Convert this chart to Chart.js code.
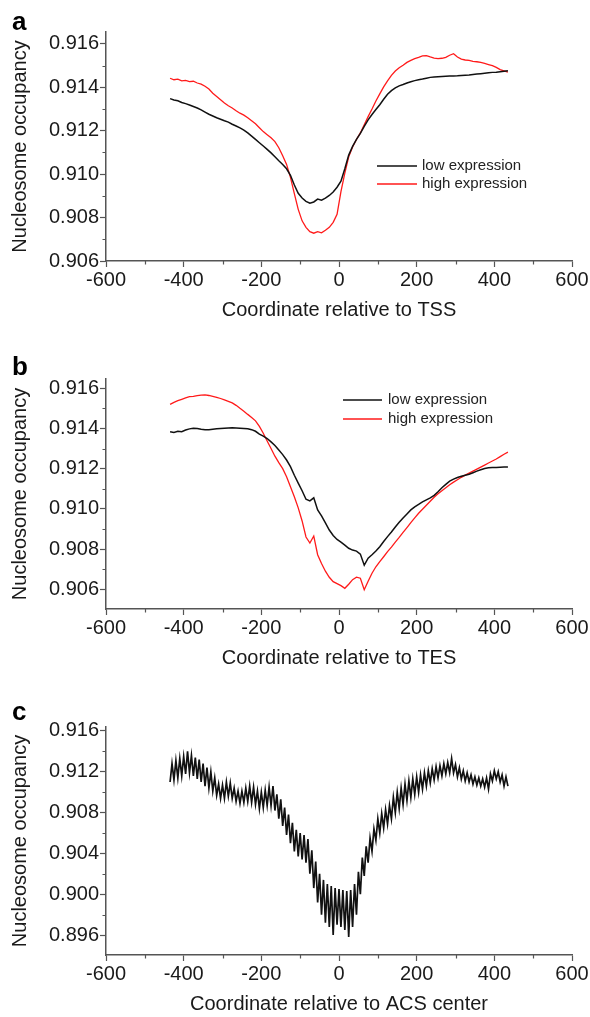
<!DOCTYPE html>
<html>
<head>
<meta charset="utf-8">
<script src="https://cdn.jsdelivr.net/npm/chart.js@4.4.1/dist/chart.umd.min.js"></script>
<style>
  html, body { margin: 0; padding: 0; background: #fff; }
  #wrap { position: relative; width: 590px; height: 1017px; }
  canvas { position: absolute; left: 0; }
</style>
</head>
<body>
<div id="wrap">
  <canvas id="ca" width="590" height="330" style="top:0px"></canvas>
  <canvas id="cb" width="590" height="345" style="top:330px"></canvas>
  <canvas id="cc" width="590" height="342" style="top:675px"></canvas>
</div>
<script>
// ---------------- DATA ----------------
const SERIES_LABELS = ['low expression', 'high expression'];
const X_TITLE_A = 'Coordinate relative to TSS';
const X_TITLE_B = 'Coordinate relative to TES';
const X_TITLE_C = 'Coordinate relative to ACS center';
const Y_TITLE = 'Nucleosome occupancy';

const X_TICKS = [-600, -400, -200, 0, 200, 400, 600];
const Y_TICKS_A = [0.906, 0.908, 0.910, 0.912, 0.914, 0.916];
const Y_TICKS_B = [0.906, 0.908, 0.910, 0.912, 0.914, 0.916];
const Y_TICKS_C = [0.896, 0.900, 0.904, 0.908, 0.912, 0.916];

// positions (bp) for panels a and b
const POS_AB = [
  -435,-425,-415,-405,-395,-385,-375,-365,-355,-345,-335,
  -325,-315,-305,-295,-285,-275,-265,-255,-245,-235,-225,
  -215,-205,-195,-185,-175,-165,-155,-145,-135,-125,-115,
  -105,-95,-85,-75,-65,-55,-45,-35,-25,-15,-5,
  5,15,25,35,45,55,65,75,85,95,105,
  115,125,135,145,155,165,175,185,195,205,215,
  225,235,245,255,265,275,285,295,305,315,325,
  335,345,355,365,375,385,395,405,415,425,435
];

// panel a: TSS
const A_LOW = [
  .91348,.91342,.91338,.91330,.91325,.91319,.91312,.91305,.91296,.91286,.91276,
  .91268,.91260,.91253,.91246,.91240,.91230,.91222,.91213,.91203,.91190,.91175,
  .91160,.91145,.91130,.91114,.91098,.91080,.91062,.91045,.91025,.90995,.90950,
  .90912,.90890,.90875,.90866,.90872,.90885,.90880,.90890,.90902,.90918,.90940,
  .90968,.91025,.91088,.91128,.91160,.91188,.91220,.91250,.91275,.91298,.91320,
  .91345,.91368,.91385,.91398,.91407,.91413,.91420,.91426,.91431,.91435,.91438,
  .91442,.91446,.91448,.91449,.91450,.91451,.91452,.91452,.91453,.91455,.91456,
  .91457,.91459,.91461,.91463,.91465,.91467,.91469,.91470,.91472,.91474,.91476
];
const A_HIGH = [
  .91442,.91435,.91438,.91430,.91432,.91426,.91428,.91420,.91415,.91405,.91392,
  .91373,.91358,.91343,.91328,.91315,.91305,.91292,.91281,.91272,.91260,.91246,
  .91232,.91214,.91196,.91182,.91168,.91150,.91122,.91085,.91045,.90985,.90910,
  .90838,.90785,.90755,.90735,.90728,.90735,.90730,.90742,.90755,.90778,.90815,
  .90920,.91005,.91080,.91125,.91160,.91190,.91228,.91265,.91300,.91337,.91370,
  .91402,.91430,.91455,.91475,.91490,.91502,.91515,.91524,.91532,.91538,.91545,
  .91546,.91540,.91535,.91532,.91534,.91538,.91548,.91555,.91540,.91530,.91526,
  .91524,.91520,.91518,.91515,.91510,.91505,.91500,.91492,.91482,.91476,.91470
];

// panel b: TES
const B_LOW = [
  .91384,.91380,.91386,.91384,.91392,.91398,.91401,.91400,.91396,.91394,.91393,
  .91396,.91398,.91400,.91401,.91402,.91403,.91402,.91401,.91400,.91398,.91394,
  .91386,.91372,.91362,.91350,.91333,.91315,.91293,.91270,.91243,.91210,.91167,
  .91128,.91090,.91048,.91040,.91055,.90995,.90965,.90930,.90895,.90868,.90848,
  .90835,.90820,.90804,.90795,.90790,.90775,.90720,.90755,.90772,.90790,.90812,
  .90838,.90862,.90885,.90910,.90933,.90955,.90975,.90995,.91010,.91022,.91035,
  .91045,.91055,.91067,.91085,.91105,.91122,.91138,.91148,.91156,.91162,.91167,
  .91172,.91180,.91188,.91195,.91201,.91204,.91206,.91206,.91207,.91208,.91208
];
const B_HIGH = [
  .91520,.91530,.91538,.91545,.91552,.91558,.91560,.91563,.91566,.91567,.91564,
  .91560,.91555,.91549,.91542,.91535,.91527,.91515,.91500,.91486,.91470,.91455,
  .91438,.91410,.91376,.91338,.91300,.91262,.91230,.91200,.91160,.91110,.91060,
  .91005,.90940,.90860,.90830,.90865,.90772,.90728,.90690,.90660,.90638,.90628,
  .90618,.90605,.90625,.90648,.90660,.90655,.90598,.90640,.90680,.90712,.90738,
  .90762,.90787,.90810,.90835,.90858,.90883,.90907,.90932,.90955,.90978,.90998,
  .91018,.91038,.91058,.91075,.91090,.91105,.91120,.91133,.91145,.91157,.91168,
  .91178,.91188,.91198,.91208,.91218,.91228,.91238,.91248,.91260,.91272,.91282
];

// panel c: ACS center (positions and values)
const POS_C = [
  -435,-430,-425,-420,-415,-410,-405,-400,-395,-390,
  -385,-380,-375,-370,-365,-360,-355,-350,-345,-340,
  -335,-330,-325,-320,-315,-310,-305,-300,-295,-290,
  -285,-280,-275,-270,-265,-260,-255,-250,-245,-240,
  -235,-230,-225,-220,-215,-210,-205,-200,-195,-190,
  -185,-180,-175,-170,-165,-160,-155,-150,-145,-140,
  -135,-130,-125,-120,-115,-110,-105,-100,-95,-90,
  -85,-80,-75,-70,-65,-60,-55,-50,-45,-40,
  -35,-30,-25,-20,-15,-10,-5,0,5,10,
  15,20,25,30,35,40,45,50,55,60,
  65,70,75,80,85,90,95,100,105,110,
  115,120,125,130,135,140,145,150,155,160,
  165,170,175,180,185,190,195,200,205,210,
  215,220,225,230,235,240,245,250,255,260,
  265,270,275,280,285,290,295,300,305,310,
  315,320,325,330,335,340,345,350,355,360,
  365,370,375,380,385,390,395,400,405,410,
  415,420,425,430,435
];
const C_ACS = [
  .9110,.9128,.9112,.9131,.9114,.9133,.9116,.9135,.9118,.9140,
  .9119,.9136,.9116,.9134,.9113,.9132,.9110,.9128,.9106,.9124,
  .9104,.9120,.9101,.9114,.9097,.9108,.9094,.9107,.9094,.9110,
  .9096,.9109,.9094,.9104,.9091,.9101,.9089,.9101,.9090,.9104,
  .9091,.9106,.9090,.9105,.9088,.9101,.9084,.9100,.9085,.9102,
  .9087,.9105,.9087,.9106,.9082,.9098,.9074,.9093,.9067,.9085,
  .9058,.9078,.9050,.9070,.9042,.9063,.9037,.9060,.9034,.9058,
  .9031,.9054,.9020,.9043,.9006,.9032,.8992,.9020,.8980,.9014,
  .8972,.9010,.8968,.9008,.8960,.9006,.8970,.9005,.8968,.9004,
  .8965,.9003,.8958,.9004,.8968,.9010,.8980,.9022,.9000,.9036,
  .9018,.9047,.9031,.9055,.9042,.9064,.9053,.9074,.9060,.9079,
  .9065,.9083,.9069,.9087,.9074,.9095,.9080,.9100,.9084,.9104,
  .9088,.9108,.9092,.9111,.9095,.9113,.9098,.9115,.9100,.9117,
  .9103,.9119,.9106,.9121,.9109,.9123,.9112,.9125,.9114,.9126,
  .9116,.9128,.9118,.9129,.9119,.9133,.9119,.9127,.9115,.9124,
  .9113,.9121,.9111,.9119,.9110,.9117,.9108,.9115,.9107,.9114,
  .9106,.9113,.9105,.9114,.9103,.9118,.9111,.9121,.9113,.9120,
  .9110,.9117,.9106,.9115,.9106
];

// ---------------- STYLE / RENDER ----------------
const FONT = '"Liberation Sans", Arial, Helvetica, sans-serif';
const AXIS_COLOR = '#555';
const TEXT_COLOR = '#1a1a1a';
const BLACK = '#111111';
const RED = '#ff1a1a';

Chart.defaults.font.family = FONT;

function pts(xs, ys) { return xs.map((x, i) => ({ x: x, y: ys[i] })); }
function mids(arr) { return arr.slice(1).map((v, i) => (v + arr[i]) / 2); }

const decor = {
  id: 'decor',
  afterDraw(chart, args, o) {
    const ctx = chart.ctx;
    const xs = chart.scales.x, ys = chart.scales.y;
    ctx.save();
    // minor ticks
    ctx.strokeStyle = AXIS_COLOR;
    ctx.lineWidth = 1.2;
    ctx.beginPath();
    mids(X_TICKS).forEach(v => {
      const p = Math.round(xs.getPixelForValue(v)) + 0.5;
      ctx.moveTo(p, xs.top); ctx.lineTo(p, xs.top + 3.5);
    });
    mids(o.yTicks).forEach(v => {
      const p = Math.round(ys.getPixelForValue(v)) + 0.5;
      ctx.moveTo(ys.right, p); ctx.lineTo(ys.right - 3.5, p);
    });
    ctx.stroke();
    // legend
    if (o.legend) {
      const L = o.legend;
      ctx.font = '15px ' + FONT;
      ctx.textBaseline = 'middle';
      ctx.textAlign = 'left';
      chart.data.datasets.forEach((ds, i) => {
        const y = L.y + i * L.dy;
        ctx.strokeStyle = ds.borderColor;
        ctx.lineWidth = 1.5;
        ctx.beginPath(); ctx.moveTo(L.x1, y); ctx.lineTo(L.x2, y); ctx.stroke();
        ctx.fillStyle = '#222';
        ctx.fillText(ds.label, L.tx, y);
      });
    }
    // panel letter
    ctx.font = 'bold 26px ' + FONT;
    ctx.fillStyle = '#000';
    ctx.textBaseline = 'alphabetic';
    ctx.fillText(o.letter, 12, o.letterY);
    ctx.restore();
  }
};

function panel(id, cfg) {
  return new Chart(document.getElementById(id), {
    type: 'line',
    data: { datasets: cfg.datasets },
    options: {
      responsive: false,
      animation: false,
      devicePixelRatio: 1,
      layout: { padding: { left: 0, right: 18, top: cfg.top, bottom: cfg.padBottom } },
      elements: { point: { radius: 0 }, line: { tension: 0 } },
      plugins: {
        legend: { display: false },
        tooltip: { enabled: false },
        decor: { yTicks: cfg.yTicks, legend: cfg.legend, letter: cfg.letter, letterY: cfg.letterY }
      },
      scales: {
        x: {
          type: 'linear', min: -600, max: 600,
          afterBuildTicks: s => { s.ticks = X_TICKS.map(v => ({ value: v })); },
          afterFit: s => { s.height = cfg.xH; s.paddingLeft = 0; s.paddingRight = 0; },
          grid: { drawOnChartArea: false, drawTicks: true, tickLength: 6, tickColor: AXIS_COLOR, tickWidth: 1.2 },
          border: { display: true, color: AXIS_COLOR, width: 1.5 },
          ticks: { color: TEXT_COLOR, font: { size: 20 }, padding: 1, maxRotation: 0, autoSkip: false,
                   callback: v => String(v) },
          title: { display: true, text: cfg.xTitle, color: TEXT_COLOR, font: { size: 20 }, padding: { top: 0, bottom: 0 } }
        },
        y: {
          type: 'linear', min: cfg.yMin, max: cfg.yMax,
          afterBuildTicks: s => { s.ticks = cfg.yTicks.map(v => ({ value: v })); },
          afterFit: s => { s.width = 106; s.paddingTop = 0; s.paddingBottom = 0; },
          grid: { drawOnChartArea: false, drawTicks: true, tickLength: 6, tickColor: AXIS_COLOR, tickWidth: 1.2 },
          border: { display: true, color: AXIS_COLOR, width: 1.5 },
          ticks: { color: TEXT_COLOR, font: { size: 20 }, padding: 1, autoSkip: false,
                   callback: v => v.toFixed(3) },
          title: { display: true, text: Y_TITLE, color: TEXT_COLOR, font: { size: 20 }, padding: { top: 8, bottom: 0 } }
        }
      }
    },
    plugins: [decor]
  });
}

panel('ca', {
  top: 32, padBottom: 8, xH: 61, yMin: 0.906, yMax: 0.91655, yTicks: Y_TICKS_A,
  xTitle: X_TITLE_A, letter: 'a', letterY: 30,
  legend: { x1: 377, x2: 417, tx: 422, y: 166, dy: 18 },
  datasets: [
    { label: SERIES_LABELS[0], data: pts(POS_AB, A_LOW), borderColor: BLACK, borderWidth: 1.5 },
    { label: SERIES_LABELS[1], data: pts(POS_AB, A_HIGH), borderColor: RED, borderWidth: 1.3 }
  ]
});

panel('cb', {
  top: 49, padBottom: 5, xH: 61, yMin: 0.90502, yMax: 0.91646, yTicks: Y_TICKS_B,
  xTitle: X_TITLE_B, letter: 'b', letterY: 45,
  legend: { x1: 343, x2: 382, tx: 388, y: 70, dy: 19 },
  datasets: [
    { label: SERIES_LABELS[0], data: pts(POS_AB, B_LOW), borderColor: BLACK, borderWidth: 1.5 },
    { label: SERIES_LABELS[1], data: pts(POS_AB, B_HIGH), borderColor: RED, borderWidth: 1.3 }
  ]
});

panel('cc', {
  top: 52, padBottom: 1, xH: 61, yMin: 0.89404, yMax: 0.91639, yTicks: Y_TICKS_C,
  xTitle: X_TITLE_C, letter: 'c', letterY: 45,
  legend: null,
  datasets: [
    { label: 'ACS', data: pts(POS_C, C_ACS), borderColor: BLACK, borderWidth: 1.7 }
  ]
});
</script>
</body>
</html>
